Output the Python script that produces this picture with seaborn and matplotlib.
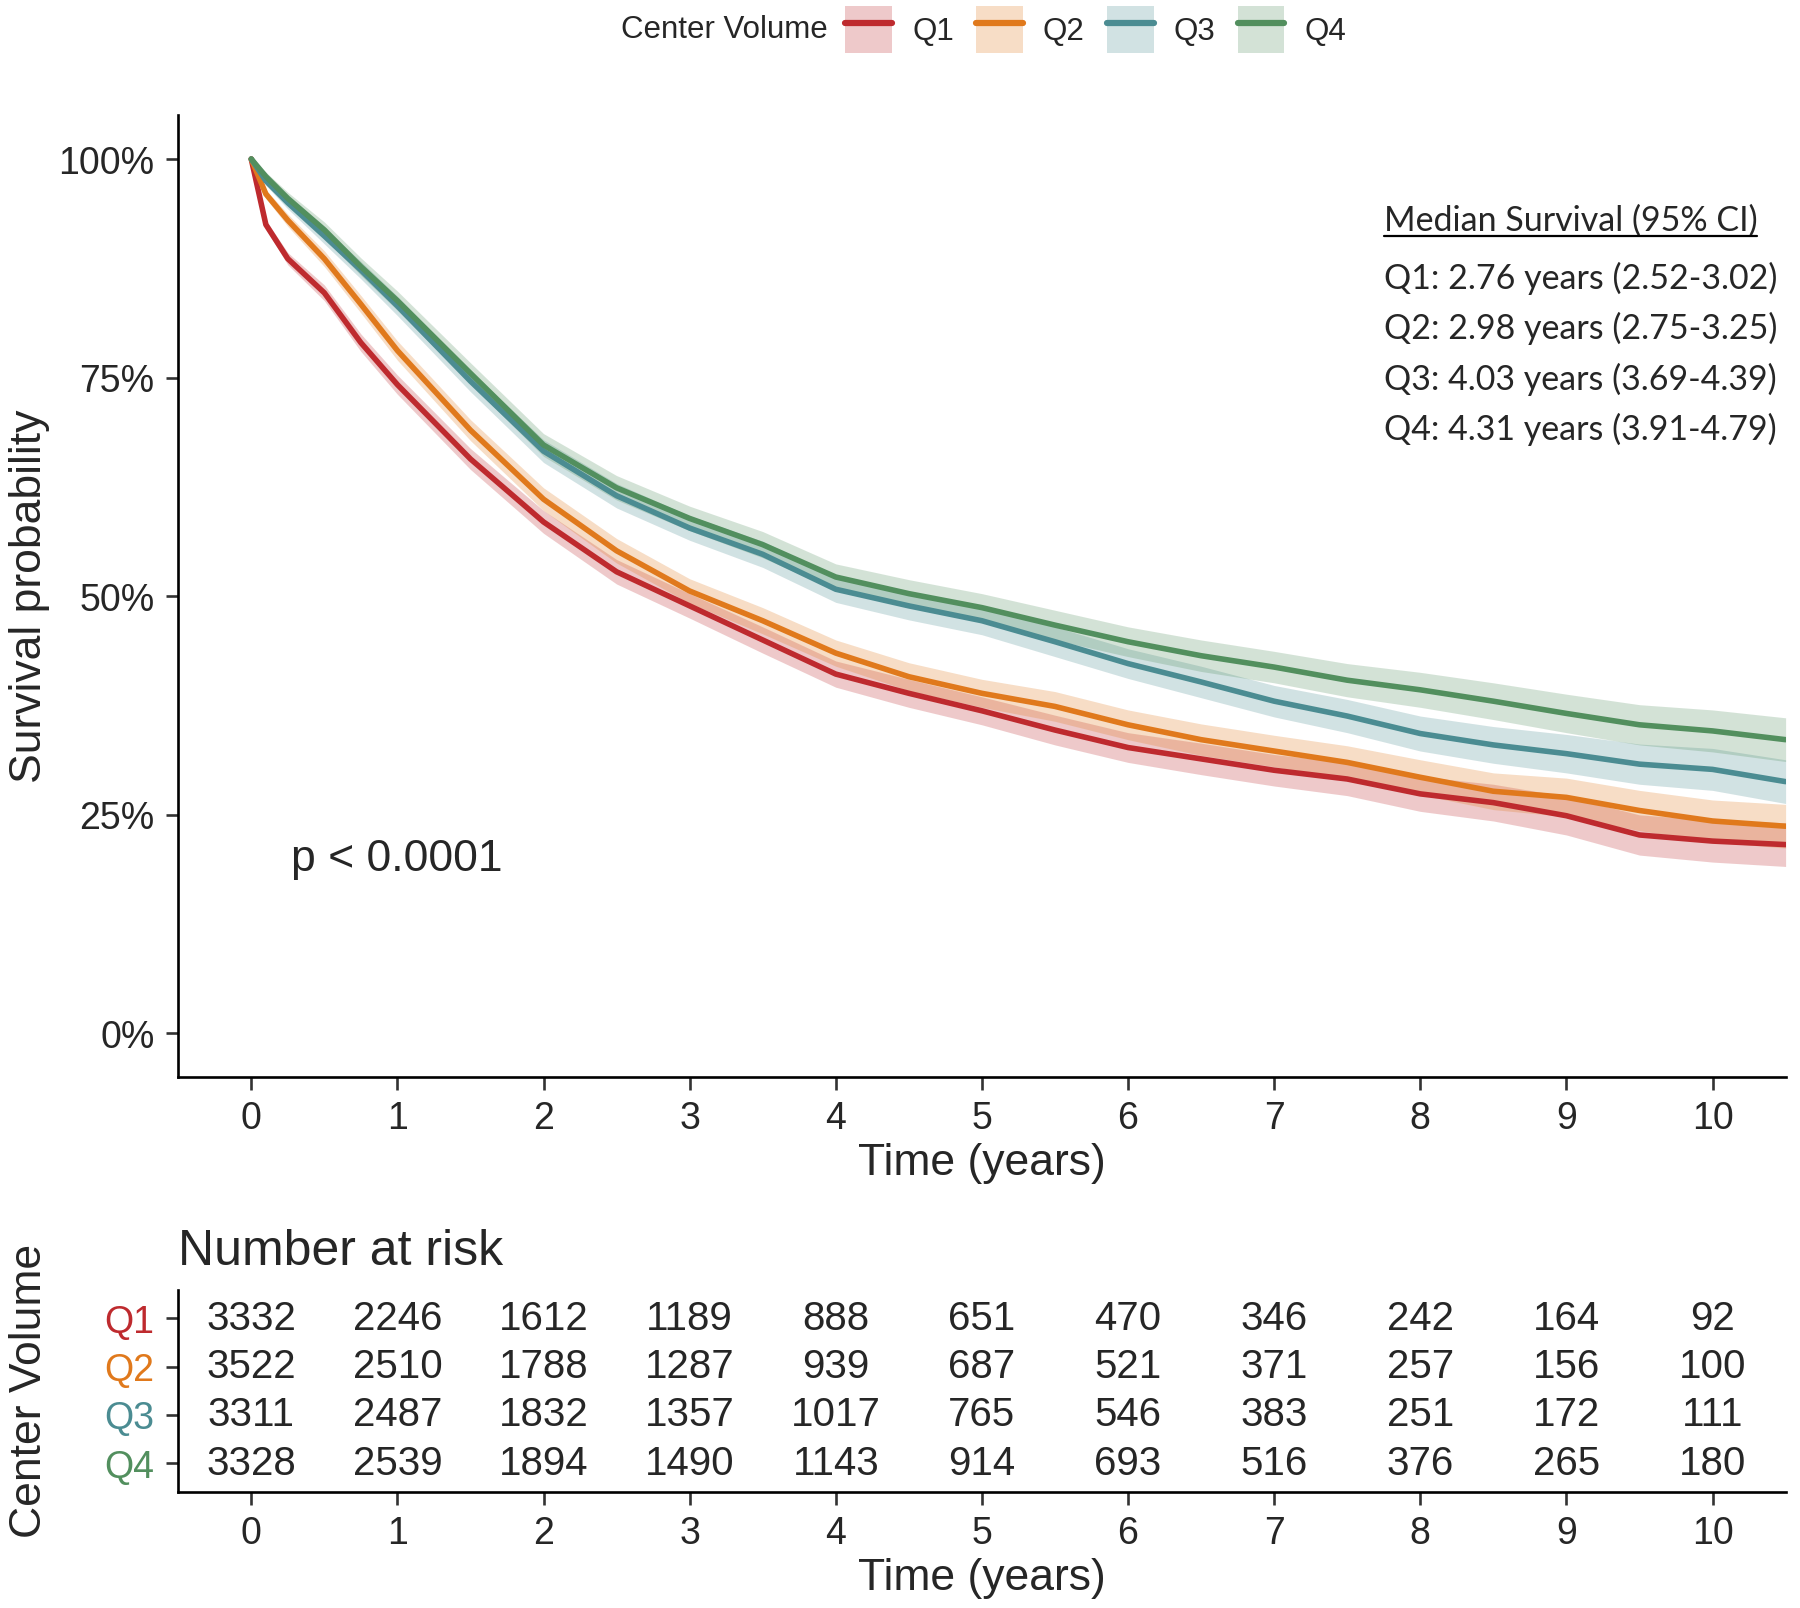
import pandas as pd
import seaborn as sns
import matplotlib.pyplot as plt
from matplotlib.patches import Patch
from matplotlib.lines import Line2D
from matplotlib.ticker import PercentFormatter

# Dados (sobrevivência em %)
groups = ["Q1", "Q2", "Q3", "Q4"]
colors = ["#BE2A2E", "#E0791C", "#4B8C92", "#528F5E"]

times = [0, 0.1, 0.25, 0.5, 0.75, 1, 1.5, 2, 2.5, 3, 3.5, 4, 4.5, 5,
         5.5, 6, 6.5, 7, 7.5, 8, 8.5, 9, 9.5, 10, 10.5]
surv_q1 = [100, 92.5, 88.6, 84.7, 79.0, 74.2, 65.7, 58.5, 52.8, 48.9, 45.0, 41.1, 38.9, 36.9,
           34.7, 32.7, 31.4, 30.1, 29.1, 27.4, 26.4, 24.9, 22.7, 22.0, 21.6]
surv_q2 = [100, 96.0, 93.0, 88.6, 83.4, 78.1, 69.0, 61.1, 55.2, 50.6, 47.2, 43.5, 40.8, 38.9,
           37.4, 35.3, 33.6, 32.3, 31.0, 29.3, 27.7, 27.0, 25.5, 24.3, 23.7]
surv_q3 = [100, 97.5, 95.0, 91.2, 87.3, 83.2, 74.6, 66.6, 61.5, 57.8, 54.8, 50.8, 48.9, 47.2,
           44.8, 42.3, 40.2, 38.0, 36.3, 34.3, 33.0, 32.0, 30.8, 30.2, 28.8]
surv_q4 = [100, 98.0, 95.5, 91.9, 87.7, 83.8, 75.5, 67.3, 62.4, 58.9, 55.9, 52.2, 50.3, 48.7,
           46.7, 44.8, 43.2, 41.9, 40.4, 39.3, 38.0, 36.6, 35.3, 34.6, 33.6]
ci_half = [0, 0.5, 0.7, 0.9, 1.0, 1.1, 1.2, 1.3, 1.4, 1.4, 1.5, 1.5, 1.6, 1.6,
           1.7, 1.7, 1.8, 1.8, 1.9, 2.0, 2.1, 2.2, 2.3, 2.4, 2.5]

risk_times = [0, 1, 2, 3, 4, 5, 6, 7, 8, 9, 10]
risk_q1 = [3332, 2246, 1612, 1189, 888, 651, 470, 346, 242, 164, 92]
risk_q2 = [3522, 2510, 1788, 1287, 939, 687, 521, 371, 257, 156, 100]
risk_q3 = [3311, 2487, 1832, 1357, 1017, 765, 546, 383, 251, 172, 111]
risk_q4 = [3328, 2539, 1894, 1490, 1143, 914, 693, 516, 376, 265, 180]

median_title = "Median Survival (95% CI)"
median_lines = ["Q1: 2.76 years (2.52-3.02)",
                "Q2: 2.98 years (2.75-3.25)",
                "Q3: 4.03 years (3.69-4.39)",
                "Q4: 4.31 years (3.91-4.79)"]

surv = {"Q1": surv_q1, "Q2": surv_q2, "Q3": surv_q3, "Q4": surv_q4}
risk = {"Q1": risk_q1, "Q2": risk_q2, "Q3": risk_q3, "Q4": risk_q4}

df = pd.concat([pd.DataFrame({"time": times, "surv": surv[g], "ci": ci_half, "group": g})
                for g in groups], ignore_index=True)
df["lo"] = df["surv"] - df["ci"]
df["hi"] = (df["surv"] + df["ci"]).clip(upper=100)

sns.set_theme(style="ticks")
plt.rcParams["font.family"] = ["Liberation Sans", "DejaVu Sans"]
plt.rcParams["axes.linewidth"] = 1.9
plt.rcParams["axes.edgecolor"] = "black"

fig = plt.figure(figsize=(18, 16.085), dpi=100)
ax = fig.add_axes([0.099, 0.330, 0.893, 0.598])
axr = fig.add_axes([0.099, 0.072, 0.893, 0.126])

# Curvas
for g, c in zip(groups, colors):
    sub = df[df["group"] == g]
    ax.fill_between(sub["time"], sub["lo"], sub["hi"], color=c, alpha=0.25, lw=0)
sns.lineplot(data=df, x="time", y="surv", hue="group", palette=colors,
             linewidth=4, legend=False, errorbar=None, ax=ax)

ax.set_xlim(-0.5, 10.5)
ax.set_ylim(-5, 105)
ax.set_xticks(risk_times)
ax.set_yticks([0, 25, 50, 75, 100])
ax.yaxis.set_major_formatter(PercentFormatter(100, decimals=0))
ax.set_xlabel("Time (years)", fontsize=32, labelpad=4)
ax.set_ylabel("Survival probability", fontsize=32)
ax.yaxis.set_label_coords(-0.0927, 0.5)
ax.yaxis.label.set_va("center")
ax.tick_params(labelsize=27, length=9, width=1.9, color="#333333", pad=8)
sns.despine(ax=ax)

ax.text(0.27, 20, "p < 0.0001", fontsize=32, va="center", ha="left")

# Mediana
title = ax.text(0.75, 0.891, median_title, transform=ax.transAxes, fontsize=24.5,
                family=["Lato", "DejaVu Sans"], va="center", ha="left")
for i, line in enumerate(median_lines):
    ax.text(0.75, 0.831 - i * 0.0525, line, transform=ax.transAxes, fontsize=24.5,
            family=["Lato", "DejaVu Sans"], va="center", ha="left")

# Tabela de risco
for j, g in enumerate(groups):
    for t, n in zip(risk_times, risk[g]):
        axr.text(t, j + 1, str(n), fontsize=29, ha="center", va="center")
axr.set_xlim(-0.5, 10.5)
axr.set_ylim(4.6, 0.4)
axr.set_xticks(risk_times)
axr.set_yticks([1, 2, 3, 4])
axr.set_yticklabels(groups)
for lab, c in zip(axr.get_yticklabels(), colors):
    lab.set_color(c)
axr.tick_params(labelsize=27, length=9, width=1.9, color="#333333", pad=8)
axr.set_xlabel("Time (years)", fontsize=32, labelpad=4)
axr.set_ylabel("Center Volume", fontsize=32)
axr.yaxis.set_label_coords(-0.0927, 0.5)
axr.yaxis.label.set_va("center")
axr.set_title("Number at risk", fontsize=36, loc="left", pad=18)
sns.despine(ax=axr)

# Legenda
handles = [(Patch(facecolor=c, alpha=0.25, edgecolor="none"), Line2D([], [], color=c, lw=4.5))
           for c in colors]
fig.legend(handles, groups, ncol=4, loc="center left",
           bbox_to_anchor=(845 / 1800, 1 - 30 / 1608), frameon=False, fontsize=22.5,
           handlelength=1.5, handleheight=1.9, handletextpad=0.65, columnspacing=0.7,
           borderpad=0, borderaxespad=0)
fig.text(828 / 1800, 1 - 30 / 1608, "Center Volume", fontsize=22.5, ha="right", va="center")

# Sublinhado do título da mediana
fig.canvas.draw()
bb = title.get_window_extent().transformed(fig.transFigure.inverted())
fig.add_artist(Line2D([bb.x0, bb.x1], [bb.y0, bb.y0], color="black", lw=1.6,
                      transform=fig.transFigure))

fig.savefig("out.png", dpi=100)
